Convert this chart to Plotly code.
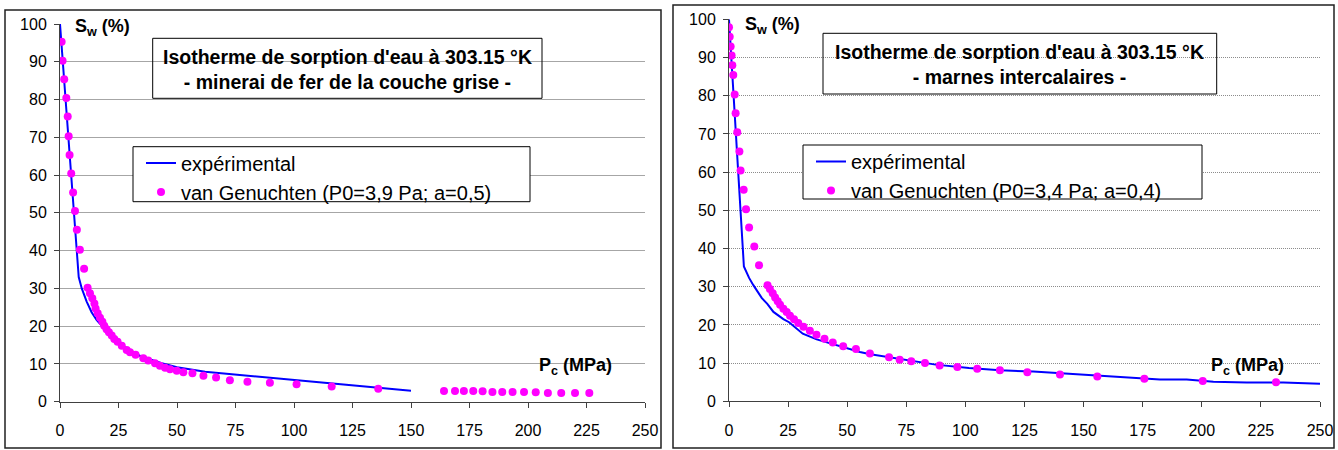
import plotly.graph_objects as go

# ---------------- data ----------------
# Left chart : minerai de fer de la couche grise
left_exp_x = [0, 8.0, 9.3, 11.4, 13.5, 15.7, 18.0, 20.0, 25.0, 30.0, 35.0, 43.5, 50.0,
              62.0, 75.0, 100.0, 120.0, 150.0]
left_exp_y = [100, 33.0, 30.0, 26.5, 23.7, 21.6, 20.0, 18.8, 15.7, 13.4, 11.9, 10.2, 9.1,
              7.9, 7.2, 5.7, 4.6, 2.9]

left_vg_x = [0.7, 1.1, 1.8, 2.7, 3.3, 3.7, 4.1, 4.8, 5.6, 6.4, 7.2, 8.5, 10.3,
             11.8, 12.8, 13.8, 14.7, 15.2, 16.1, 17.1, 18.1, 18.9, 19.9, 20.9, 22.1,
             23.2, 24.6, 26.4, 28.5, 29.9, 32.3, 35.6, 37.7, 40.6, 42.7, 44.9, 47.0,
             49.9, 52.7, 56.6, 61.3, 66.7, 72.6, 80.1, 89.7, 101.1, 116.1, 136.0,
             164.1, 168.8, 172.6, 176.6, 180.6, 184.8, 189.0, 193.4, 198.3, 203.3,
             208.5, 214.2, 220.1, 226.2]
left_vg_y = [95.3, 90.3, 85.4, 80.4, 75.5, 70.3, 65.3, 60.4, 55.4, 50.5, 45.5, 40.2, 35.2,
             30.2, 28.7, 27.4, 26.0, 24.7, 23.4, 22.2, 21.2, 20.1, 19.2, 18.4, 17.5,
             16.6, 15.9, 14.8, 13.7, 13.1, 12.4, 11.5, 10.9, 10.2, 9.5, 9.0, 8.6,
             8.2, 7.8, 7.5, 6.9, 6.4, 5.7, 5.3, 5.0, 4.6, 4.0, 3.4,
             2.8, 2.8, 2.8, 2.8, 2.75, 2.6, 2.6, 2.6, 2.6, 2.5,
             2.3, 2.3, 2.3, 2.3]

# Right chart : marnes intercalaires
right_exp_x = [0, 6.3, 8.5, 10.3, 13.9, 16.2, 18.8, 23.0, 25.4, 31.2, 37.1, 45.6, 55.4,
               59.2, 73.3, 87.4, 101.5, 114.6, 128.7, 149.9, 171.0, 182.3, 193.6, 204.9,
               219.0, 234.5, 250.0]
right_exp_y = [100, 35.3, 32.3, 30.4, 27.0, 25.5, 23.4, 21.5, 20.7, 17.7, 16.2, 14.6, 12.9,
               12.4, 10.9, 9.6, 8.7, 8.1, 7.8, 6.9, 6.1, 5.7, 5.7, 5.1,
               4.9, 4.9, 4.6]

right_vg_x = [0.0, 0.3, 0.7, 1.1, 1.4, 1.8, 2.4, 2.8, 3.5, 4.4, 4.9, 6.2, 7.2, 8.5, 10.7,
              12.7, 16.3, 17.3, 18.5, 19.5, 20.6, 21.6, 23.0, 24.4, 25.8, 27.5, 29.3,
              31.5, 34.2, 37.0, 40.4, 43.9, 48.3, 53.7, 59.6, 67.7, 72.2, 77.1, 82.9,
              89.1, 96.6, 105.0, 114.6, 126.2, 140.0, 155.8, 175.7, 200.4, 231.4]
right_vg_y = [97.9, 95.4, 92.9, 90.5, 88.0, 85.4, 80.3, 75.4, 70.4, 65.4, 60.4, 55.4, 50.3,
              45.5, 40.5, 35.6, 30.4, 29.4, 28.3, 27.2, 26.2, 25.3, 24.2, 23.4, 22.4,
              21.5, 20.5, 19.5, 18.5, 17.4, 16.4, 15.4, 14.4, 13.7, 12.5, 11.5, 10.9,
              10.5, 10.0, 9.4, 9.0, 8.5, 8.1, 7.6, 7.0, 6.5, 5.9, 5.3, 5.0]

x_ticks = [0, 25, 50, 75, 100, 125, 150, 175, 200, 225, 250]
y_ticks = [0, 10, 20, 30, 40, 50, 60, 70, 80, 90, 100]

title_left = "Isotherme de sorption d'eau à 303.15 °K<br>- minerai de fer de la couche grise -"
title_right = "Isotherme de sorption d'eau à 303.15 °K<br>- marnes intercalaires -"
name_exp = "expérimental"
name_vg_left = "van Genuchten (P0=3,9 Pa; a=0,5)"
name_vg_right = "van Genuchten (P0=3,4 Pa; a=0,4)"

# ---------------- figure ----------------
W, H = 1338, 450
FONT = "Liberation Sans, Arial, sans-serif"
BLUE = "#0000FF"
MAGENTA = "#FF00FF"

fig = go.Figure()
fig.add_trace(go.Scatter(x=left_exp_x, y=left_exp_y, mode="lines", name=name_exp,
                         line=dict(color=BLUE, width=2), xaxis="x", yaxis="y", legend="legend"))
fig.add_trace(go.Scatter(x=left_vg_x, y=left_vg_y, mode="markers", name=name_vg_left,
                         marker=dict(color=MAGENTA, size=8), xaxis="x", yaxis="y", legend="legend"))
fig.add_trace(go.Scatter(x=right_exp_x, y=right_exp_y, mode="lines", name=name_exp,
                         line=dict(color=BLUE, width=2), xaxis="x2", yaxis="y2", legend="legend2"))
fig.add_trace(go.Scatter(x=right_vg_x, y=right_vg_y, mode="markers", name=name_vg_right,
                         marker=dict(color=MAGENTA, size=8), xaxis="x2", yaxis="y2", legend="legend2"))


def px_x(p):
    return p / W


def px_y(p):
    return 1 - p / H


common_x = dict(range=[0, 250], tickvals=x_ticks, showline=True, linecolor="#404040", linewidth=1,
                ticks="outside", ticklen=5, tickcolor="#404040", showgrid=False, zeroline=False,
                tickfont=dict(size=16, color="black", family=FONT), ticklabelstandoff=9,
                automargin=False, fixedrange=True)
common_y = dict(range=[0, 100], tickvals=y_ticks, showline=True, linecolor="#404040", linewidth=1,
                ticks="outside", ticklen=5, tickcolor="#404040", zeroline=False,
                tickfont=dict(size=16, color="black", family=FONT), ticklabelstandoff=4,
                automargin=False, fixedrange=True)

legend_common = dict(xanchor="left", yanchor="top", bgcolor="rgba(0,0,0,0)",
                     borderwidth=0, font=dict(size=20, color="black", family=FONT),
                     tracegroupgap=0)

fig.update_layout(
    width=W, height=H,
    margin=dict(l=0, r=0, t=0, b=0, pad=0, autoexpand=False),
    paper_bgcolor="white", plot_bgcolor="white",
    font=dict(family=FONT, color="black"),
    showlegend=True,
    xaxis=dict(domain=[px_x(60), px_x(645)], anchor="y", **common_x),
    yaxis=dict(domain=[px_y(401.7), px_y(24)], anchor="x", showgrid=True,
               gridcolor="#a6a6a6", gridwidth=1, **common_y),
    xaxis2=dict(domain=[px_x(729), px_x(1320)], anchor="y2", **common_x),
    yaxis2=dict(domain=[px_y(401.3), px_y(19.3)], anchor="x2", showgrid=True,
                gridcolor="#8c8c8c", gridwidth=1, griddash="1px,1px", **common_y),
    legend=dict(x=px_x(141), y=px_y(143.5), **legend_common),
    legend2=dict(x=px_x(811), y=px_y(142), **legend_common),
)

# legend boxes (white, opaque, drawn above the grid)
for x0, y0, x1, y1 in [(133, 146.7, 530, 201.7), (803, 145, 1202, 199)]:
    fig.add_shape(type="rect", xref="paper", yref="paper",
                  x0=px_x(x0), x1=px_x(x1), y0=px_y(y1), y1=px_y(y0),
                  fillcolor="white", line=dict(color="black", width=1), layer="above")

# title boxes (transparent)
for x0, y0, x1, y1 in [(152.7, 38.3, 542, 98.3), (823, 33.3, 1216.7, 94)]:
    fig.add_shape(type="rect", xref="paper", yref="paper",
                  x0=px_x(x0), x1=px_x(x1), y0=px_y(y1), y1=px_y(y0),
                  line=dict(color="black", width=1), layer="above")

# outer chart borders
fig.add_shape(type="rect", xref="paper", yref="paper",
              x0=px_x(5), x1=px_x(661), y0=px_y(448), y1=px_y(10),
              line=dict(color="#202020", width=1.5), layer="above")
fig.add_shape(type="rect", xref="paper", yref="paper",
              x0=px_x(673), x1=px_x(1334), y0=px_y(448), y1=px_y(5),
              line=dict(color="#202020", width=1.5), layer="above")

# chart titles
for txt, cx, cy in [(title_left, 347.3, 69.0), (title_right, 1019.8, 64.0)]:
    fig.add_annotation(text="<b>" + txt + "</b>", xref="paper", yref="paper",
                       x=px_x(cx), y=px_y(cy), xanchor="center", yanchor="middle",
                       showarrow=False, align="center",
                       font=dict(size=19.5, color="black", family=FONT))

# axis titles
for sx, sy in [(73, 28), (743, 25)]:
    fig.add_annotation(text="<b>S<sub>w</sub> (%)</b>", xref="paper", yref="paper",
                       x=px_x(sx), y=px_y(sy), xanchor="left", yanchor="middle",
                       showarrow=False, font=dict(size=18, color="black", family=FONT))
for pxx, pyy in [(536.7, 366.7), (1209, 366)]:
    fig.add_annotation(text="<b>P<sub>c</sub> (MPa)</b>", xref="paper", yref="paper",
                       x=px_x(pxx), y=px_y(pyy), xanchor="left", yanchor="middle",
                       showarrow=False, font=dict(size=18, color="black", family=FONT))

fig.write_html(
    "out.html",
    config={"displayModeBar": False, "staticPlot": True},
    post_script="document.body.style.margin='0';document.body.style.padding='0';"
                "document.body.style.overflow='hidden';",
)
